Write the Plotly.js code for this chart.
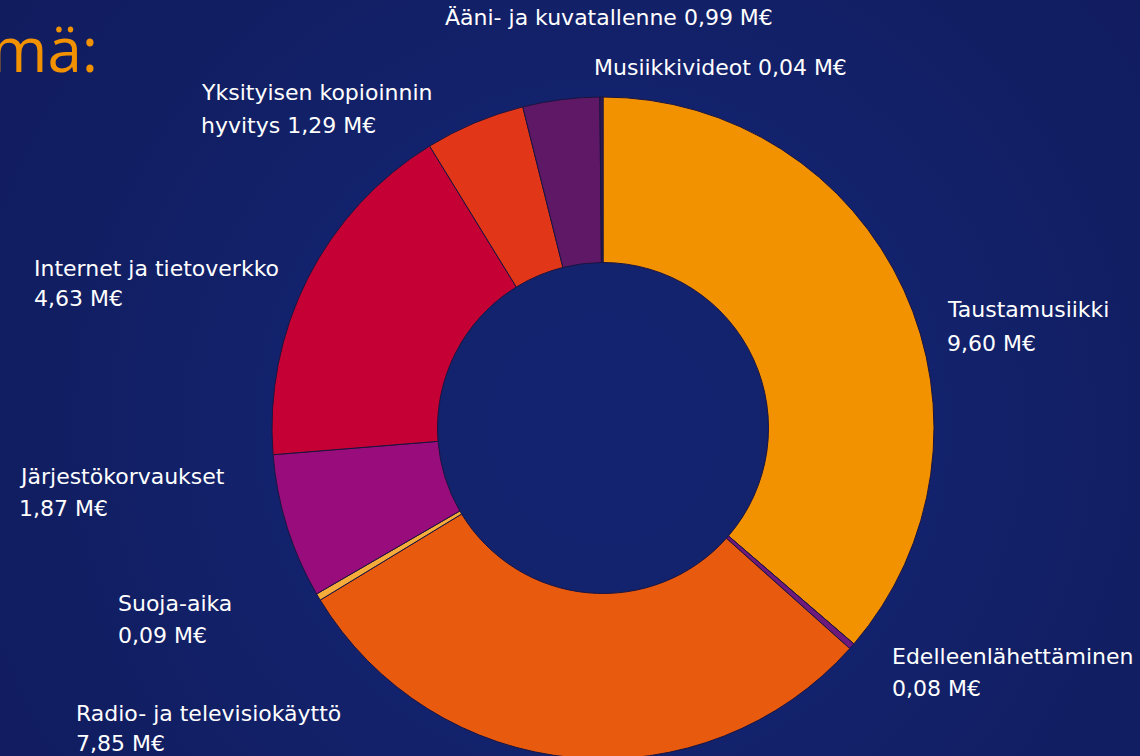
<!DOCTYPE html>
<html>
<head>
<meta charset="utf-8">
<script src="https://cdn.plot.ly/plotly-3.0.1.min.js"></script>
<style>
html,body{margin:0;padding:0;width:1140px;height:756px;overflow:hidden;
background:radial-gradient(circle at 603px 428px,#14236f 0px,#13226c 330px,#111e62 560px,#101b5b 900px);}
#chart{width:1140px;height:800px;}
</style>
</head>
<body>
<div id="chart"></div>
<script>
const categories = ["Taustamusiikki","Edelleenlähettäminen","Radio- ja televisiokäyttö","Suoja-aika","Järjestökorvaukset","Internet ja tietoverkko","Yksityisen kopioinnin hyvitys","Ääni- ja kuvatallenne","Musiikkivideot"];
const values = [9.60,0.08,7.85,0.09,1.87,4.63,1.29,0.99,0.04];
const valueLabels = ["9,60 M€","0,08 M€","7,85 M€","0,09 M€","1,87 M€","4,63 M€","1,29 M€","0,99 M€","0,04 M€"];
const colors = ["#F39200","#6E1A7C","#E85B0F","#F6AC3A","#990C7B","#C50034","#E23618","#5E1866","#2E1A52"];
const titleText = "mä:";

const labelFont = {family:"'DejaVu Sans', sans-serif", size:22, color:"#FFFFFF"};
const labelSpec = [
  {i:0, lines:["Taustamusiikki", valueLabels[0]], x:945, y:[310,343]},
  {i:1, lines:["Edelleenlähettäminen", valueLabels[1]], x:890, y:[656,688]},
  {i:2, lines:["Radio- ja televisiokäyttö", valueLabels[2]], x:74, y:[713,743]},
  {i:3, lines:["Suoja-aika", valueLabels[3]], x:116, y:[603,635]},
  {i:4, lines:["Järjestökorvaukset", valueLabels[4]], x:17, y:[476,508]},
  {i:5, lines:["Internet ja tietoverkko", valueLabels[5]], x:32, y:[268,298]},
  {i:6, lines:["Yksityisen kopioinnin", "hyvitys " + valueLabels[6]], x:199, y:[93,126]},
  {i:7, lines:[categories[7] + " " + valueLabels[7]], x:443, y:[18]},
  {i:8, lines:[categories[8] + " " + valueLabels[8]], x:592, y:[68]}
];
const H = 800, W = 1140;
const annotations = [];
labelSpec.forEach(s => {
  s.lines.forEach((t, k) => {
    annotations.push({text:t, x:s.x/W, y:(H - s.y[k])/H, xref:"paper", yref:"paper",
      xanchor:"left", yanchor:"middle", showarrow:false, font:labelFont});
  });
});
annotations.push({text:titleText, x:100/W, y:(H-48)/H, xref:"paper", yref:"paper",
  xanchor:"right", yanchor:"middle", showarrow:false,
  font:{family:"'Open Sans', sans-serif", size:62, color:"#F39200"}});

const cx = 603, cy = 428, r = 331;
const trace = {
  type:"pie", labels:categories, values:values, sort:false, direction:"clockwise", rotation:0,
  hole:0.5, textinfo:"none", hoverinfo:"label+value",
  marker:{colors:colors, line:{color:"#1b1440", width:1}},
  domain:{x:[(cx-r)/W,(cx+r)/W], y:[(H-cy-r)/H,(H-cy+r)/H]}
};
const layout = {
  width:W, height:H, margin:{l:0,r:0,t:0,b:0}, showlegend:false,
  paper_bgcolor:"rgba(0,0,0,0)", plot_bgcolor:"rgba(0,0,0,0)",
  annotations:annotations
};
Plotly.newPlot("chart",[trace],layout,{displayModeBar:false,staticPlot:true});
</script>
</body>
</html>
